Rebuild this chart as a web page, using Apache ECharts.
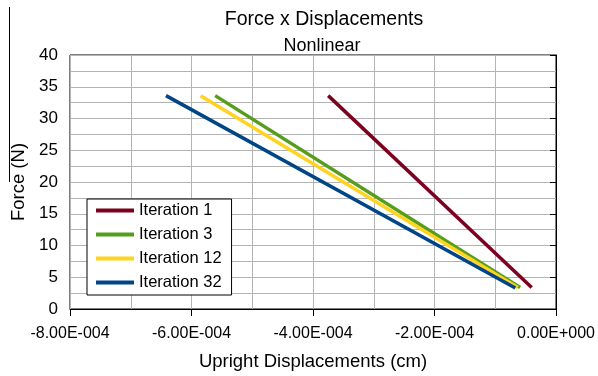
<!DOCTYPE html>
<html><head><meta charset="utf-8">
<script src="https://cdn.jsdelivr.net/npm/echarts@6/dist/echarts.min.js"></script>
<style>html,body{margin:0;padding:0;background:#fff}#c{width:598px;height:376px}</style>
</head><body><div id="c"></div>
<script>
const seriesNames = ['Iteration 1', 'Iteration 3', 'Iteration 12', 'Iteration 32'];
const seriesColors = ['#7e0021', '#579d1c', '#ffd320', '#004586'];
const iter1 = [[-3.75e-4, 33.6], [-0.40e-4, 3.4]];
const iter3 = [[-5.61e-4, 33.6], [-0.59e-4, 3.4]];
const iter12 = [[-5.85e-4, 33.6], [-0.63e-4, 3.4]];
const iter32 = [[-6.42e-4, 33.6], [-0.67e-4, 3.3]];
const seriesData = [iter1, iter3, iter12, iter32];
const xTicks = [-8e-4, -6e-4, -4e-4, -2e-4, 0];

function fmtE(v) {
  if (Math.abs(v) < 1e-12) return '0.00E+000';
  const s = v.toExponential(2);
  const [m, e] = s.split('e');
  const ei = parseInt(e, 10);
  const sign = ei < 0 ? '-' : '+';
  return m + 'E' + sign + String(Math.abs(ei)).padStart(3, '0');
}

const font = 'Liberation Sans, Arial, sans-serif';
const chart = echarts.init(document.getElementById('c'), null, {renderer: 'canvas'});
chart.setOption({
  animation: false,
  title: [
    {text: 'Force x Displacements', left: 319, top: 5, textAlign: 'center',
     textStyle: {fontFamily: font, fontSize: 19.5, fontWeight: 'normal', color: '#000'}},
    {text: 'Nonlinear', left: 317, top: 32, textAlign: 'center',
     textStyle: {fontFamily: font, fontSize: 18, fontWeight: 'normal', color: '#000'}}
  ],
  grid: {left: 70, right: 42, top: 55, bottom: 65, show: true, borderColor: '#000', borderWidth: 1},
  legend: {
    orient: 'vertical', left: 87, top: 199,
    backgroundColor: '#fff', borderColor: '#000', borderWidth: 1,
    padding: [3, 10, 4, 9], itemGap: 7, itemWidth: 38, itemHeight: 4,
    icon: 'rect',
    textStyle: {fontFamily: font, fontSize: 16.5, color: '#000'},
    data: seriesNames
  },
  xAxis: {
    type: 'value', min: xTicks[0], max: xTicks[xTicks.length - 1], interval: 2e-4,
    name: 'Upright Displacements (cm)', nameLocation: 'middle', nameGap: 43,
    nameTextStyle: {fontFamily: font, fontSize: 18.5, color: '#000'},
    axisLine: {show: true, lineStyle: {color: '#000', width: 1}},
    axisTick: {show: true, length: 7, inside: false, lineStyle: {color: '#000'}},
    axisLabel: {fontFamily: font, fontSize: 16, color: '#000', formatter: fmtE, margin: 17},
    splitLine: {show: true, lineStyle: {color: '#b3b3b3', width: 1}},
    minorTick: {show: false, splitNumber: 2},
    minorSplitLine: {show: true, lineStyle: {color: '#b3b3b3', width: 1}}
  },
  yAxis: {
    type: 'value', min: 0, max: 40, interval: 5,
    name: 'Force (N)', nameLocation: 'middle', nameGap: 42, nameRotate: 90,
    nameTextStyle: {fontFamily: font, fontSize: 18.5, color: '#000'},
    axisLine: {show: true, lineStyle: {color: '#000', width: 1}},
    axisTick: {show: true, length: 6, inside: false, lineStyle: {color: '#000'}},
    axisLabel: {fontFamily: font, fontSize: 17, color: '#000', margin: 12},
    splitLine: {show: true, lineStyle: {color: '#b3b3b3', width: 1}},
    minorTick: {show: false, splitNumber: 2},
    minorSplitLine: {show: true, lineStyle: {color: '#b3b3b3', width: 1}}
  },
  graphic: [{type: 'line', shape: {x1: 9.5, y1: 7, x2: 9.5, y2: 182}, style: {stroke: '#000', lineWidth: 1}}],
  series: seriesNames.map((n, i) => ({
    name: n, type: 'line', data: seriesData[i], showSymbol: false, symbol: 'none',
    lineStyle: {color: seriesColors[i], width: 3.5}, itemStyle: {color: seriesColors[i]}
  }))
});
</script></body></html>
